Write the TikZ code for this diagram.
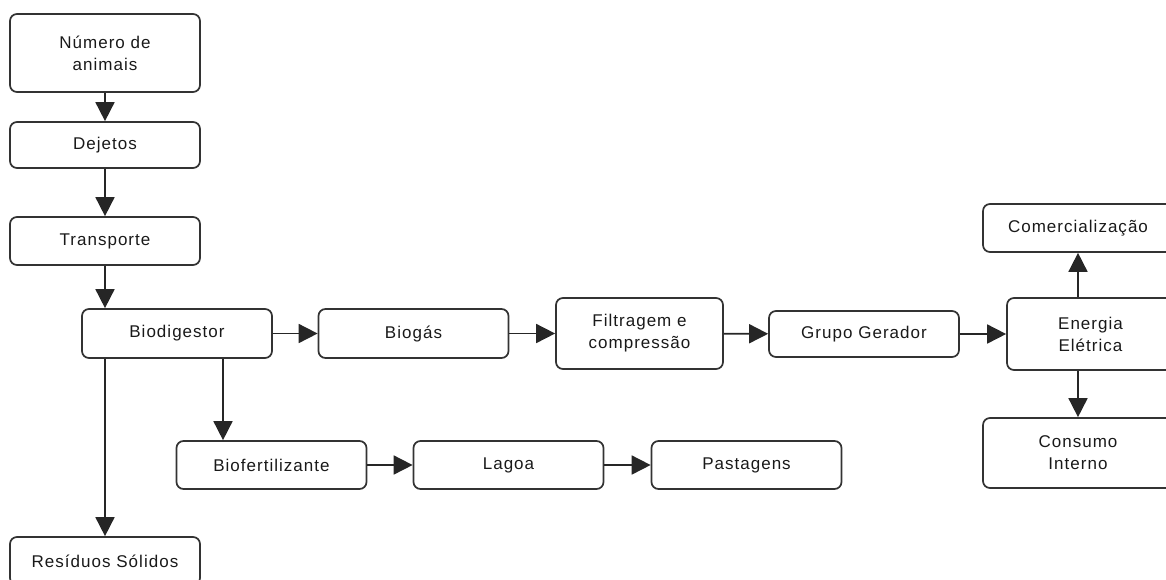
\documentclass[tikz,border=0pt]{standalone}
\usepackage{fontspec}
\setmainfont{Liberation Sans}[LetterSpace=6]
\usepackage{tikz}
\usetikzlibrary{positioning, calc, arrows.meta}

\begin{document}
\begin{tikzpicture}[x=1pt, y=-1pt,
    box/.style={draw=black!80, line width=1.7pt, rounded corners=7pt, rectangle,
        minimum width=190pt, minimum height=48pt, inner sep=0pt, align=center,
        text=black!90, font=\fontsize{17}{22}\selectfont},
    flow/.style={draw=black!85, line width=1.7pt, -{Triangle[length=19pt, width=19pt]}}]
    \useasboundingbox (0,0) rectangle (1166,579);

    % Left column
    \node[box, minimum height=78pt] (num) at (105,53) {Número de\\animais};
    \node[box, minimum height=46pt] (dej) at (105,145) {Dejetos};
    \node[box] (trans) at (105,241) {Transporte};

    % Main line
    \node[box, minimum height=49pt] (bio) at (177,333.5) {Biodigestor};
    \node[box, minimum height=49pt] (biogas) at (413.5,333.5) {Biogás};
    \node[box, minimum width=167pt, minimum height=71pt] (filt) at (639.5,333.5) {Filtragem e\\compressão};
    \node[box, minimum height=46pt] (grupo) at (864,334) {Grupo Gerador};
    \node[box, minimum width=167pt, minimum height=72pt] (energ) at (1090.5,334) {Energia\\Elétrica};

    % Energy outputs
    \node[box] (comer) at (1078,228) {Comercialização};
    \node[box, minimum height=70pt] (cons) at (1078,453) {Consumo\\Interno};

    % Fertilizer line
    \node[box] (biof) at (271.5,465) {Biofertilizante};
    \node[box] (lagoa) at (508.5,465) {Lagoa};
    \node[box] (past) at (746.5,465) {Pastagens};

    % Solids
    \node[box] (resid) at (105,561) {Resíduos Sólidos};

    % Arrows
    \draw[flow] (num) -- (dej);
    \draw[flow] (dej) -- (trans);
    \draw[flow] (trans.south) -- (trans.south |- bio.north);
    \draw[flow] (bio) -- (biogas);
    \draw[flow] (biogas) -- (filt);
    \draw[flow] (filt) -- (grupo);
    \draw[flow] (grupo) -- (energ);
    \draw[flow] (comer.south |- energ.north) -- (comer.south);
    \draw[flow] (cons.north |- energ.south) -- (cons.north);
    \draw[flow] ([xshift=46pt]bio.south) -- ([xshift=46pt]bio.south |- biof.north);
    \draw[flow] (biof) -- (lagoa);
    \draw[flow] (lagoa) -- (past);
    \draw[flow] (resid.north |- bio.south) -- (resid.north);
\end{tikzpicture}
\end{document}
